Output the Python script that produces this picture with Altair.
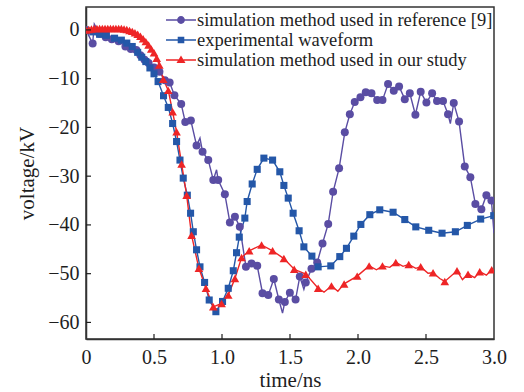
import altair as alt
import pandas as pd

# ---- series names and colours ----
SERIES = [
    "simulation method used in reference [9]",
    "experimental waveform",
    "simulation method used in our study",
]
COLORS = ["#5a4da3", "#2457a8", "#ee2526"]

# ---- simulation from reference [9]: time (ns), voltage (kV), 1 = drawn with a marker ----
ref_t = [0.000, 0.049, 0.061, 0.100, 0.145, 0.190, 0.240, 0.290, 0.330, 0.370,
         0.400, 0.430, 0.460, 0.500, 0.540, 0.580, 0.615, 0.650, 0.700, 0.730,
         0.771, 0.813, 0.838, 0.857, 0.899, 0.936, 0.960, 0.972, 1.021, 1.058,
         1.095, 1.131, 1.176, 1.217, 1.259, 1.298, 1.340, 1.381, 1.418, 1.445,
         1.462, 1.499, 1.541, 1.572, 1.602, 1.616, 1.658, 1.700, 1.739, 1.781,
         1.817, 1.861, 1.903, 1.940, 1.976, 2.018, 2.057, 2.099, 2.141, 2.180,
         2.221, 2.263, 2.302, 2.344, 2.381, 2.422, 2.461, 2.503, 2.545, 2.581,
         2.625, 2.662, 2.679, 2.704, 2.743, 2.785, 2.826, 2.863, 2.907, 2.944,
         2.981, 3.000]
ref_v = [0.0, -2.8, 1.2, -0.8, -1.5, -1.9, -2.3, -3.4, -3.9, -4.1,
         -5.2, -6.1, -6.8, -7.7, -8.6, -10.3, -10.8, -13.4, -15.2, -18.9,
         -18.6, -23.7, -22.2, -25.0, -26.7, -30.8, -28.7, -30.8, -33.7, -39.5,
         -38.3, -40.4, -48.6, -47.9, -48.4, -54.0, -54.4, -51.1, -55.3, -58.1,
         -55.8, -53.9, -55.3, -50.6, -53.2, -51.8, -49.0, -47.7, -43.8, -39.8,
         -33.2, -28.4, -21.0, -17.3, -14.8, -13.8, -12.8, -13.0, -14.4, -14.4,
         -11.1, -12.5, -11.6, -14.2, -13.0, -17.4, -12.7, -14.9, -13.0, -14.6,
         -14.6, -17.3, -19.2, -15.0, -18.8, -28.0, -30.2, -35.7, -36.8, -33.9,
         -35.0, -41.7]
ref_marked = [1, 1, 0, 1, 1, 1, 1, 1, 1, 1,
              1, 1, 1, 1, 1, 1, 1, 1, 1, 1,
              1, 1, 0, 1, 1, 1, 0, 1, 1, 1,
              1, 1, 1, 1, 1, 1, 1, 1, 1, 0,
              1, 1, 1, 1, 0, 1, 1, 1, 1, 1,
              1, 1, 1, 1, 1, 1, 1, 1, 1, 1,
              1, 1, 1, 1, 1, 1, 1, 1, 1, 1,
              1, 1, 0, 1, 1, 1, 1, 1, 1, 1,
              1, 0]

# ---- measured waveform ----
exp_t = [0.00, 0.05, 0.10, 0.15, 0.21, 0.26, 0.30, 0.34, 0.38, 0.41,
         0.44, 0.47, 0.50, 0.53, 0.57, 0.605, 0.637, 0.666, 0.691, 0.715,
         0.745, 0.769, 0.789, 0.813, 0.838, 0.872, 0.906, 0.955, 1.004, 1.046,
         1.083, 1.107, 1.127, 1.168, 1.185, 1.222, 1.259, 1.308, 1.372, 1.425,
         1.455, 1.487, 1.523, 1.567, 1.602, 1.661, 1.707, 1.800, 1.866, 1.915,
         1.969, 2.021, 2.087, 2.160, 2.258, 2.344, 2.425, 2.520, 2.618, 2.716,
         2.804, 2.902, 2.998]
exp_v = [-0.1, -0.4, -0.9, -1.1, -1.7, -2.1, -2.7, -3.4, -4.6, -5.6,
         -6.5, -7.8, -9.0, -10.6, -13.5, -15.9, -19.2, -22.9, -26.7, -30.4,
         -33.9, -37.6, -41.4, -45.1, -48.6, -51.8, -55.4, -57.8, -55.7, -53.0,
         -49.4, -45.7, -42.5, -38.6, -35.2, -31.6, -28.6, -26.3, -26.7, -29.1,
         -31.9, -34.5, -37.6, -41.2, -44.5, -46.4, -48.6, -48.4, -46.5, -44.8,
         -42.3, -39.9, -37.9, -36.9, -37.4, -38.9, -40.4, -41.1, -41.7, -41.4,
         -40.1, -38.8, -38.1]

# ---- simulation of this study ----
our_t = [0.00, 0.02, 0.04, 0.06, 0.08, 0.10, 0.12, 0.14, 0.16, 0.18,
         0.20, 0.22, 0.24, 0.26, 0.28, 0.30, 0.32, 0.34, 0.36, 0.38,
         0.40, 0.42, 0.44, 0.46, 0.48, 0.50, 0.52, 0.539, 0.568, 0.605,
         0.637, 0.666, 0.703, 0.740, 0.776, 0.830, 0.882, 0.936, 0.997, 1.046,
         1.095, 1.144, 1.200, 1.291, 1.372, 1.455, 1.531, 1.616, 1.707, 1.750,
         1.805, 1.852, 1.898, 1.994, 2.082, 2.136, 2.180, 2.234, 2.278, 2.331,
         2.373, 2.425, 2.461, 2.515, 2.552, 2.601, 2.638, 2.728, 2.768, 2.809,
         2.858, 2.895, 2.944, 2.983]
our_v = [0.0, 0.1, 0.2, 0.3, 0.3, 0.3, 0.3, 0.3, 0.3, 0.3,
         0.3, 0.3, 0.3, 0.3, 0.2, 0.1, -0.1, -0.3, -0.6, -0.9,
         -1.3, -1.8, -2.4, -3.1, -3.9, -4.7, -5.8, -7.2, -10.1, -12.4,
         -16.8, -20.9, -27.5, -33.9, -42.1, -48.9, -53.0, -56.8, -56.1, -54.4,
         -51.0, -46.7, -45.3, -44.1, -45.3, -46.9, -49.1, -50.1, -53.0, -53.8,
         -52.5, -53.6, -52.1, -50.5, -48.4, -49.2, -48.4, -48.7, -47.7, -48.5,
         -48.1, -48.9, -48.6, -49.9, -49.8, -51.0, -51.6, -49.4, -51.2, -50.1,
         -50.8, -49.6, -50.3, -49.2]
our_marked = [1, 1, 1, 1, 1, 1, 1, 1, 1, 1,
              1, 1, 1, 1, 1, 1, 1, 1, 1, 1,
              1, 1, 1, 1, 1, 1, 1, 1, 1, 1,
              1, 1, 1, 1, 1, 1, 1, 1, 1, 1,
              1, 1, 1, 1, 1, 1, 1, 1, 1, 0,
              1, 0, 1, 1, 1, 0, 1, 0, 1, 0,
              1, 0, 1, 0, 1, 0, 1, 1, 0, 1,
              0, 1, 0, 1]

# ---- axes ----
X_LABELS = [0, 0.5, 1.0, 1.5, 2.0, 2.5, 3.0]
X_INNER_TICKS = [0.5, 1.0, 1.5, 2.0, 2.5]
Y_TICKS = [0, -10, -20, -30, -40, -50, -60]

FONT = "Liberation Serif"
INK = "#1e1e1e"
W, H = 408, 332

rows = []
for name, ts, vs, ms in [
    (SERIES[0], ref_t, ref_v, ref_marked),
    (SERIES[1], exp_t, exp_v, [1] * len(exp_t)),
    (SERIES[2], our_t, our_v, our_marked),
]:
    for t, v, m in zip(ts, vs, ms):
        rows.append({"t": t, "v": v, "series": name, "marked": m})
df = pd.DataFrame(rows)

x_enc = alt.X(
    "t:Q",
    scale=alt.Scale(domain=[0, 3], nice=False, zero=False),
    axis=alt.Axis(
        title="time/ns", values=X_LABELS, ticks=False, grid=False,
        labelExpr="datum.value == 0 ? '0' : format(datum.value, '.1f')",
        labelFlush=False, labelOverlap=False, labelPadding=8, titlePadding=2,
    ),
)
y_enc = alt.Y(
    "v:Q",
    scale=alt.Scale(domain=[-63.4, 4.7], nice=False, zero=False),
    axis=alt.Axis(
        title="voltage/kV", values=Y_TICKS, ticks=False, grid=False,
        labelFlush=False, labelOverlap=False, labelPadding=7, titlePadding=10,
    ),
)
color_scale = alt.Scale(domain=SERIES, range=COLORS)

# legend glyphs (unit = 10 px at size 400): a 30 px line with the series marker centred on it
LEGEND_SHAPES = [
    "M-1.5,-0.075H-0.36V0.075H-1.5Z M0.36,-0.075H1.5V0.075H0.36Z "
    "M-0.39,0A0.39,0.39,0,1,1,0.39,0A0.39,0.39,0,1,1,-0.39,0Z",
    "M-1.5,-0.075H-0.3V0.075H-1.5Z M0.3,-0.075H1.5V0.075H0.3Z M-0.33,-0.33H0.33V0.33H-0.33Z",
    "M-1.5,-0.075H-0.25V0.075H-1.5Z M0.25,-0.075H1.5V0.075H0.25Z M0,-0.45L0.45,0.3H-0.45Z",
]
legend_opts = dict(
    title=None, orient="none", legendX=85, legendY=3, direction="vertical",
    labelFont=FONT, labelFontSize=18.5, labelColor=INK, labelLimit=0, padding=0,
    labelOffset=6, rowPadding=0, symbolSize=400, symbolStrokeWidth=0,
)

base = alt.Chart(df)

lines = base.mark_line(strokeWidth=1.4, clip=True).encode(
    x=x_enc, y=y_enc,
    color=alt.Color("series:N", scale=color_scale, legend=alt.Legend(**legend_opts)),
    detail="series:N",
)

marker_specs = [
    (SERIES[0], "circle", 64),
    (SERIES[1], "square", 50),
    (SERIES[2], "triangle-up", 74),
]
point_layers = []
for name, shape, size in marker_specs:
    point_layers.append(
        base.transform_filter(
            (alt.datum.series == name) & (alt.datum.marked == 1)
        ).mark_point(filled=True, opacity=1, shape=shape, size=size, clip=True).encode(
            x="t:Q", y="v:Q",
            color=alt.Color("series:N", scale=color_scale, legend=alt.Legend(**legend_opts)),
        )
    )

# one row per series with no coordinates: only feeds the legend glyphs
key_df = pd.DataFrame({"series": SERIES, "t": [None] * 3, "v": [None] * 3})
legend_layer = alt.Chart(key_df).mark_point(filled=True, opacity=1, size=400).encode(
    x="t:Q", y="v:Q",
    color=alt.Color("series:N", scale=color_scale, legend=alt.Legend(**legend_opts)),
    shape=alt.Shape("series:N", scale=alt.Scale(domain=SERIES, range=LEGEND_SHAPES),
                    legend=alt.Legend(**legend_opts)),
)

tick_df = pd.DataFrame({"tick": X_INNER_TICKS})
x_ticks = alt.Chart(tick_df).mark_rule(color=INK, strokeWidth=1.2).encode(
    x="tick:Q", y=alt.value(H), y2=alt.value(H - 5)
)
ytick_df = pd.DataFrame({"tick": Y_TICKS})
y_ticks = alt.Chart(ytick_df).mark_rule(color=INK, strokeWidth=1.2).encode(
    y=alt.Y("tick:Q"), x=alt.value(0), x2=alt.value(5)
)

chart = alt.layer(lines, *point_layers, legend_layer, x_ticks, y_ticks).properties(
    width=W, height=H,
    padding={"left": 86, "top": 7, "right": 30, "bottom": 53},
    autosize=alt.AutoSizeParams(type="none"),
).configure_view(
    stroke="#333333", strokeWidth=1.5
).configure_axis(
    labelFont=FONT, labelFontSize=20, labelColor=INK,
    titleFont=FONT, titleFontSize=21, titleFontWeight="normal", titleColor=INK,
    domainColor="#333333", domainWidth=1.5,
)

chart.save("out.html", embed_options={"renderer": "svg", "actions": False})
